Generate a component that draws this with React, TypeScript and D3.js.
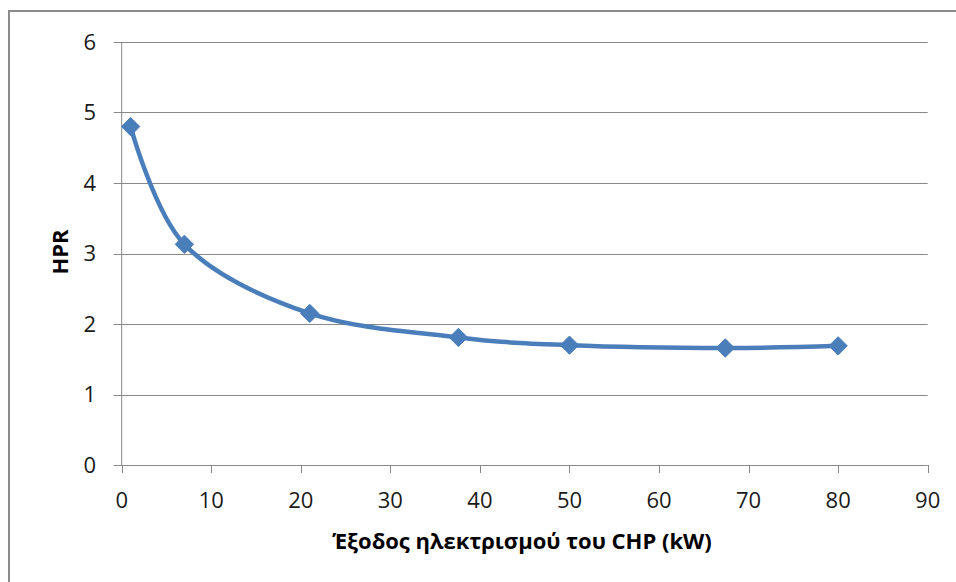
import React from "react";
import * as d3 from "d3";

// CHP electrical output (kW) and heat-to-power ratio
const outputKW = [1, 7, 21, 37.6, 50, 67.4, 80];
const hprValues = [4.8, 3.13, 2.15, 1.81, 1.7, 1.66, 1.69];
const xTicks = [0, 10, 20, 30, 40, 50, 60, 70, 80, 90];
const yTicks = [0, 1, 2, 3, 4, 5, 6];

const xTitle = "Έξοδος ηλεκτρισμού του CHP (kW)";
const yTitle = "HPR";

const W = 956;
const H = 582;
const FONT = "'Open Sans', 'Noto Sans', sans-serif";
const BLUE = "#4a7ebb";
const GRID = "#888888";

export default function App() {
  const x = d3.scaleLinear().domain([0, 90]).range([121.7, 927.7]);
  const y = d3.scaleLinear().domain([0, 6]).range([465, 42]);

  const pts: [number, number][] = outputKW.map((v, i) => [v, hprValues[i]]);
  const line = d3
    .line<[number, number]>()
    .x((d) => x(d[0]))
    .y((d) => y(d[1]))
    .curve(d3.curveCardinal.tension(0));

  const diamond = d3.symbol().type(d3.symbolDiamond2).size(215)() as string;

  return (
    <svg
      width={W}
      height={H}
      style={{ position: "absolute", left: 0, top: 0, background: "#fff" }}
    >
      <rect x={0} y={0} width={W} height={H} fill="#fff" />
      {/* chart frame */}
      <path d={`M9,${H} V11 H${W}`} fill="none" stroke="#8c8c8c" strokeWidth={2} />

      {/* horizontal gridlines */}
      {yTicks.map((t) => (
        <line
          key={"g" + t}
          x1={x(0) - 8}
          x2={x(90)}
          y1={Math.round(y(t)) + 0.5}
          y2={Math.round(y(t)) + 0.5}
          stroke={GRID}
          strokeWidth={1}
        />
      ))}
      {/* y axis */}
      <line x1={x(0)} x2={x(0)} y1={y(6)} y2={y(0)} stroke={GRID} strokeWidth={1} />
      {/* x tick marks */}
      {xTicks.map((t) => (
        <line
          key={"xt" + t}
          x1={Math.round(x(t)) + 0.5}
          x2={Math.round(x(t)) + 0.5}
          y1={y(0)}
          y2={y(0) + 8}
          stroke={GRID}
          strokeWidth={1}
        />
      ))}

      {/* tick labels */}
      {yTicks.map((t) => (
        <text
          key={"yl" + t}
          x={96}
          y={y(t)}
          dy="0.36em"
          textAnchor="end"
          fontFamily={FONT}
          fontSize={22}
          fill="#1a1a1a"
        >
          {t}
        </text>
      ))}
      {xTicks.map((t) => (
        <text
          key={"xl" + t}
          x={x(t)}
          y={508}
          textAnchor="middle"
          fontFamily={FONT}
          fontSize={22}
          fill="#1a1a1a"
        >
          {t}
        </text>
      ))}

      {/* axis titles */}
      <text
        x={522}
        y={549}
        textAnchor="middle"
        fontFamily={FONT}
        fontSize={22}
        fontWeight="bold"
        fill="#000"
      >
        {xTitle}
      </text>
      <text
        transform={`translate(68,252) rotate(-90)`}
        textAnchor="middle"
        fontFamily={FONT}
        fontSize={22}
        fontWeight="bold"
        fill="#000"
      >
        {yTitle}
      </text>

      {/* series */}
      <path d={line(pts) as string} fill="none" stroke={BLUE} strokeWidth={4.5} strokeLinecap="round" />
      {pts.map((d, i) => (
        <path
          key={"m" + i}
          d={diamond}
          transform={`translate(${x(d[0])},${y(d[1])})`}
          fill={BLUE}
          stroke={BLUE}
          strokeWidth={1}
        />
      ))}
    </svg>
  );
}
